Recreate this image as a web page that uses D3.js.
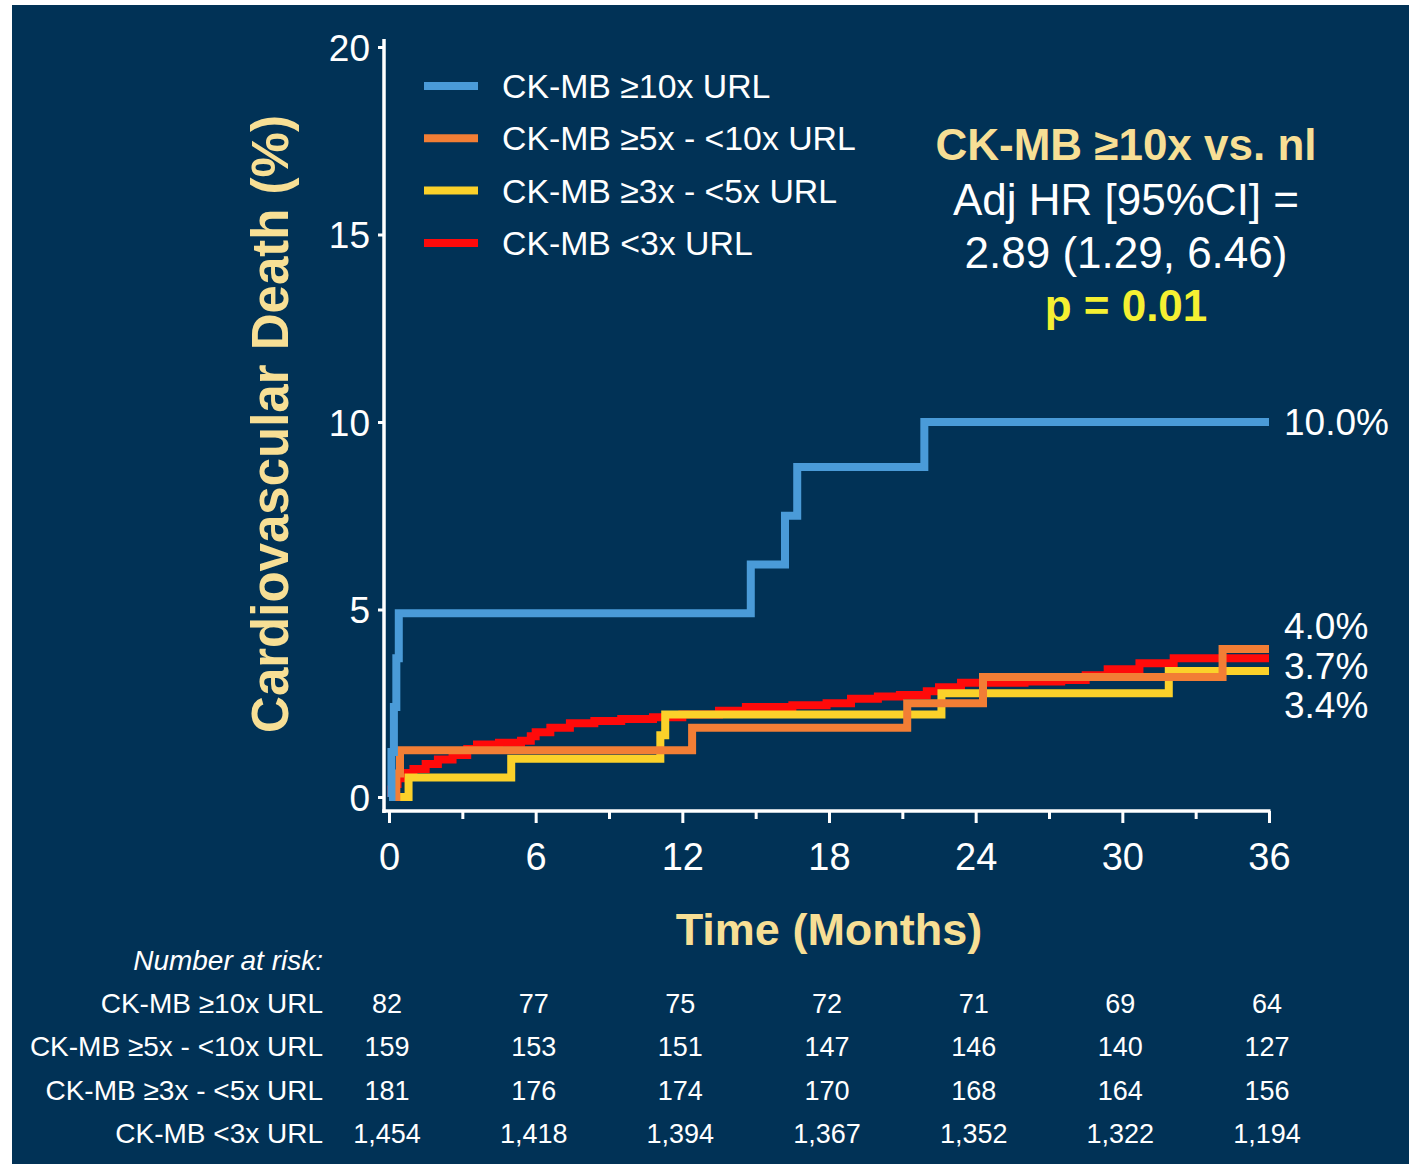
<!DOCTYPE html>
<html>
<head>
<meta charset="utf-8">
<script src="https://cdn.jsdelivr.net/npm/d3@7"></script>
<style>
  html, body { margin: 0; padding: 0; background: #ffffff; }
  svg text { font-family: "Liberation Sans", Arial, sans-serif; }
</style>
</head>
<body>
<div id="chart"></div>
<script>
// --- data ---
const seriesNames = ['CK-MB \u226510x URL', 'CK-MB \u22655x - <10x URL', 'CK-MB \u22653x - <5x URL', 'CK-MB <3x URL'];
const seriesColors = ['#4a9bd8', '#f27e35', '#fbd12a', '#ff0a0a'];

// [month, cumulative % ] pairs, drawn as step-after curves
const ck10 = [[0, 0], [0.1, 1.2], [0.2, 2.4], [0.3, 3.7], [0.4, 4.9], [14.8, 6.2], [16.2, 7.5], [16.7, 8.8], [21.9, 10.0], [36, 10.0]];
const ck5 = [[0, 0], [0.3, 0.63], [0.45, 1.25], [12.4, 1.85], [21.2, 2.5], [24.3, 3.2], [34.1, 3.95], [36, 3.95]];
const ck3 = [[0, 0], [0.8, 0.52], [5.0, 1.02], [11.1, 1.65], [11.3, 2.2], [22.6, 2.77], [31.9, 3.36], [36, 3.36]];
const ckLow = [[0, 0], [0.1, 0.2], [0.2, 0.35], [0.35, 0.5], [0.6, 0.64], [1.0, 0.75], [1.5, 0.88], [2.0, 1.0], [2.6, 1.12],
  [3.2, 1.28], [3.6, 1.4], [4.5, 1.45], [5.4, 1.5], [5.8, 1.62], [6.0, 1.73], [6.6, 1.85], [7.4, 1.97], [8.4, 2.03],
  [9.5, 2.08], [10.8, 2.13], [12.0, 2.2], [13.5, 2.3], [14.6, 2.4], [16.5, 2.45], [17.9, 2.5], [18.9, 2.62], [20.0, 2.68],
  [20.9, 2.72], [22.0, 2.82], [22.5, 2.93], [23.4, 3.05], [26.0, 3.08], [27.5, 3.12], [28.5, 3.25], [29.4, 3.41],
  [30.7, 3.57], [32.1, 3.7], [36, 3.7]];
const seriesData = [ck10, ck5, ck3, ckLow];

const endLabels = [['10.0%', 10.0], ['4.0%', 4.55], ['3.7%', 3.5], ['3.4%', 2.45]];

const xTicks = [0, 6, 12, 18, 24, 30, 36];
const xMinorTicks = [3, 9, 15, 21, 27, 33];
const yTicks = [0, 5, 10, 15, 20];

const riskTimes = [0, 6, 12, 18, 24, 30, 36];
const risk10 = ['82', '77', '75', '72', '71', '69', '64'];
const risk5 = ['159', '153', '151', '147', '146', '140', '127'];
const risk3 = ['181', '176', '174', '170', '168', '164', '156'];
const riskLow = ['1,454', '1,418', '1,394', '1,367', '1,352', '1,322', '1,194'];
const riskRows = [risk10, risk5, risk3, riskLow];

const statLines = ['CK-MB \u226510x vs. nl', 'Adj HR [95%CI] =', '2.89 (1.29, 6.46)', 'p = 0.01'];

// --- layout ---
const width = 1409, height = 1164;
const paleYellow = '#f7df95';
const bg = '#013256';

const svg = d3.select('#chart').append('svg')
  .attr('width', width)
  .attr('height', height);

svg.append('rect')
  .attr('x', 12).attr('y', 5)
  .attr('width', width - 12).attr('height', height - 5)
  .attr('fill', bg);

const x = d3.scaleLinear().domain([0, 36]).range([389, 1269]);
const y = d3.scaleLinear().domain([0, 20]).range([797, 47]);
const xAxisY = 811;
const yAxisX = 384;

// y axis
const yAxis = svg.append('g')
  .attr('transform', `translate(${yAxisX},0)`)
  .call(d3.axisLeft(y).tickValues(yTicks).tickSize(6).tickPadding(8));
yAxis.select('.domain').remove();
yAxis.selectAll('line').attr('stroke', '#fff').attr('stroke-width', 3);
yAxis.selectAll('text').attr('fill', '#fff').attr('font-size', 37)
  .attr('font-family', '"Liberation Sans", Arial, sans-serif')
  .attr('dy', '0.36em');
svg.append('line')
  .attr('x1', yAxisX).attr('x2', yAxisX)
  .attr('y1', y(20) - 8).attr('y2', xAxisY + 2)
  .attr('stroke', '#fff').attr('stroke-width', 3.5);

// x axis
const xMinor = svg.append('g')
  .attr('transform', `translate(0,${xAxisY})`)
  .call(d3.axisBottom(x).tickValues(xMinorTicks).tickSize(8).tickFormat(''));
xMinor.select('.domain').remove();
xMinor.selectAll('line').attr('stroke', '#fff').attr('stroke-width', 3);

const xAxis = svg.append('g')
  .attr('transform', `translate(0,${xAxisY})`)
  .call(d3.axisBottom(x).tickValues(xTicks).tickSize(12).tickPadding(20));
xAxis.select('.domain').remove();
xAxis.selectAll('line').attr('stroke', '#fff').attr('stroke-width', 3);
xAxis.selectAll('text').attr('fill', '#fff').attr('font-size', 38)
  .attr('font-family', '"Liberation Sans", Arial, sans-serif');
svg.append('line')
  .attr('x1', yAxisX - 1.75).attr('x2', x(36) + 1.5)
  .attr('y1', xAxisY).attr('y2', xAxisY)
  .attr('stroke', '#fff').attr('stroke-width', 3.5);

// axis titles
svg.append('text')
  .attr('transform', `translate(288,${(y(0) + y(20)) / 2 + 2}) rotate(-90)`)
  .attr('text-anchor', 'middle')
  .attr('font-size', 51).attr('font-weight', 'bold')
  .attr('fill', paleYellow)
  .text('Cardiovascular Death (%)');

svg.append('text')
  .attr('x', x(18)).attr('y', 945)
  .attr('text-anchor', 'middle')
  .attr('font-size', 45).attr('font-weight', 'bold')
  .attr('fill', paleYellow)
  .text('Time (Months)');

// curves
const line = d3.line()
  .x(d => x(d[0]))
  .y(d => y(d[1]))
  .curve(d3.curveStepAfter);

const drawOrder = [3, 2, 1, 0];
drawOrder.forEach(i => {
  svg.append('path')
    .datum(seriesData[i])
    .attr('d', line)
    .attr('fill', 'none')
    .attr('stroke', seriesColors[i])
    .attr('stroke-width', 8)
    .attr('stroke-linejoin', 'miter')
    .attr('stroke-linecap', 'butt');
});

// end labels
svg.append('g').selectAll('text')
  .data(endLabels).enter().append('text')
  .attr('x', 1284)
  .attr('y', d => y(d[1]) + 13)
  .attr('font-size', 37)
  .attr('fill', '#fff')
  .text(d => d[0]);

// legend
const legend = svg.append('g');
seriesNames.forEach((name, i) => {
  const ly = 86 + i * 52.3;
  legend.append('line')
    .attr('x1', 424).attr('x2', 478)
    .attr('y1', ly).attr('y2', ly)
    .attr('stroke', seriesColors[i])
    .attr('stroke-width', 8);
  legend.append('text')
    .attr('x', 502).attr('y', ly + 12)
    .attr('font-size', 33.8)
    .attr('fill', '#fff')
    .text(name);
});

// stats box
const statColors = [paleYellow, '#fff', '#fff', '#f5f032'];
const statWeights = ['bold', 'normal', 'normal', 'bold'];
const statBase = [160, 215, 268, 321];
statLines.forEach((s, i) => {
  svg.append('text')
    .attr('x', 1126).attr('y', statBase[i])
    .attr('text-anchor', 'middle')
    .attr('font-size', 44)
    .attr('font-weight', statWeights[i])
    .attr('fill', statColors[i])
    .text(s);
});

// number at risk table
svg.append('text')
  .attr('x', 323).attr('y', 970)
  .attr('text-anchor', 'end')
  .attr('font-size', 28)
  .attr('font-style', 'italic')
  .attr('fill', '#fff')
  .text('Number at risk:');

riskRows.forEach((row, r) => {
  const ry = 1013 + r * 43.4;
  svg.append('text')
    .attr('x', 323).attr('y', ry)
    .attr('text-anchor', 'end')
    .attr('font-size', 28)
    .attr('fill', '#fff')
    .text(seriesNames[r]);
  svg.append('g').selectAll('text')
    .data(row).enter().append('text')
    .attr('x', (d, i) => x(riskTimes[i]) - 2)
    .attr('y', ry)
    .attr('text-anchor', 'middle')
    .attr('font-size', 27)
    .attr('fill', '#fff')
    .text(d => d);
});
</script>
</body>
</html>
